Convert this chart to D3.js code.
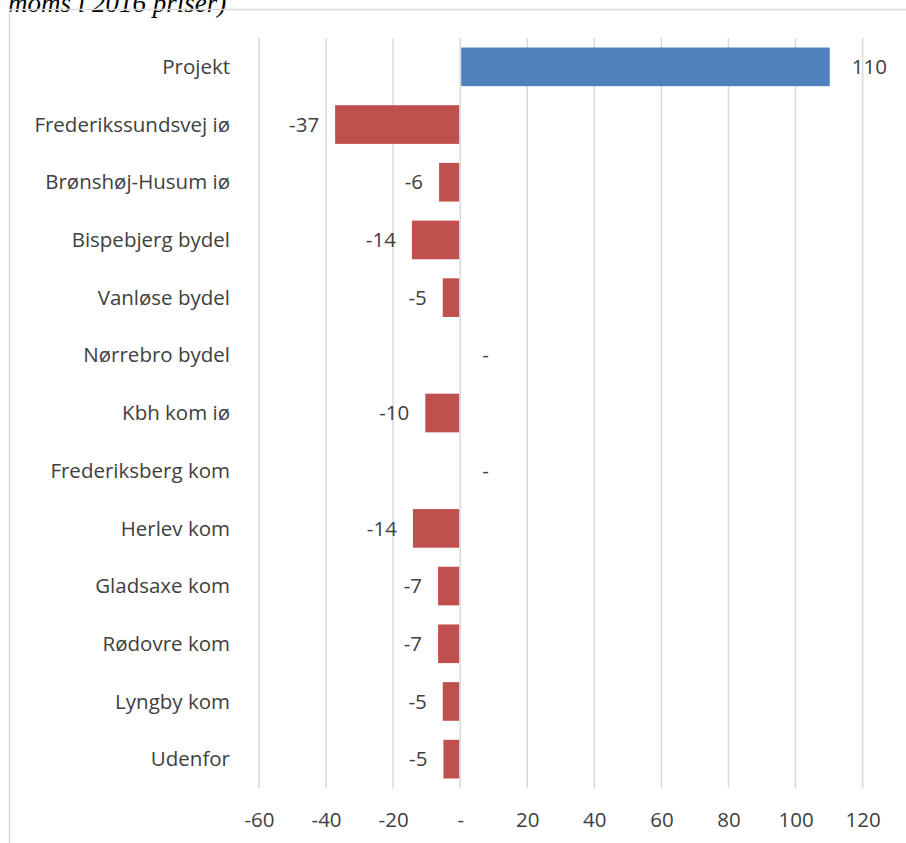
<!DOCTYPE html>
<html><head><meta charset="utf-8">
<script src="https://cdn.jsdelivr.net/npm/d3@7"></script>
<style>
html,body{margin:0;padding:0;background:#fff;}
svg{display:block;}
</style></head>
<body>
<script>
const categories = ["Projekt","Frederikssundsvej iø","Brønshøj-Husum iø","Bispebjerg bydel","Vanløse bydel","Nørrebro bydel","Kbh kom iø","Frederiksberg kom","Herlev kom","Gladsaxe kom","Rødovre kom","Lyngby kom","Udenfor"];
const values = [110.2,-37.3,-6.3,-14.4,-5.2,0,-10.4,0,-14.1,-6.6,-6.6,-5.2,-5.0];
const tickValues = [-60,-40,-20,0,20,40,60,80,100,120];
const titleText = "moms i 2016 priser)";

const W = 906, H = 843;
const svg = d3.select("body").append("svg").attr("width", W).attr("height", H);
const font = "Open Sans, Lato, sans-serif";
const fs = 20.5;
const txtColor = "#404040";
const fmt = v => { const r = Math.round(v); return r === 0 ? "-" : String(r); };

// title fragment (cut off at top, as in the reference)
svg.append("text").attr("x", 8).attr("y", 12)
  .attr("font-family", "Liberation Serif, Times New Roman, serif")
  .attr("font-style", "italic").attr("font-size", 27).attr("fill", "#000")
  .text(titleText);

// chart frame
svg.append("rect").attr("x", 9.5).attr("y", 9.5).attr("width", W).attr("height", H)
  .attr("fill", "none").attr("stroke", "#D9D9D9").attr("stroke-width", 1.5);

const x = d3.scaleLinear().domain([-60, 120]).range([259, 862.6]);
const y = d3.scaleBand().domain(categories).range([38, 788]).paddingInner(0.33).paddingOuter(0.165);

// gridlines
svg.append("g").selectAll("line").data(tickValues).join("line")
  .attr("x1", d => x(d)).attr("x2", d => x(d)).attr("y1", 38).attr("y2", 788)
  .attr("stroke", "#D9D9D9").attr("stroke-width", 1.5);

// bars
const data = categories.map((c, i) => ({c, v: values[i]}));
svg.append("g").selectAll("rect").data(data.filter(d => d.v !== 0)).join("rect")
  .attr("x", d => d.v >= 0 ? x(0) + 1 : x(d.v))
  .attr("width", d => Math.abs(x(d.v) - x(0)) - 1)
  .attr("y", d => y(d.c)).attr("height", y.bandwidth())
  .attr("fill", d => d.v >= 0 ? "#4F81BD" : "#C0504D");

// data labels
svg.append("g").selectAll("text").data(data).join("text")
  .attr("x", d => d.v >= 0 ? x(d.v) + 22 : x(d.v) - 16)
  .attr("y", d => y(d.c) + y.bandwidth() / 2)
  .attr("dy", "0.35em")
  .attr("text-anchor", d => d.v >= 0 ? "start" : "end")
  .attr("font-family", font).attr("font-size", fs).attr("fill", txtColor)
  .text(d => fmt(d.v));

// category axis labels
svg.append("g").selectAll("text").data(categories).join("text")
  .attr("x", 230).attr("y", d => y(d) + y.bandwidth() / 2).attr("dy", "0.35em")
  .attr("text-anchor", "end").attr("font-family", font).attr("font-size", fs)
  .attr("fill", txtColor).text(d => d);

// value axis
const ax = svg.append("g").attr("transform", "translate(0,788)")
  .call(d3.axisBottom(x).tickValues(tickValues).tickSize(0).tickPadding(24).tickFormat(fmt));
ax.select(".domain").remove();
ax.selectAll("text").attr("font-family", font).attr("font-size", fs).attr("fill", txtColor);
</script>
</body></html>
